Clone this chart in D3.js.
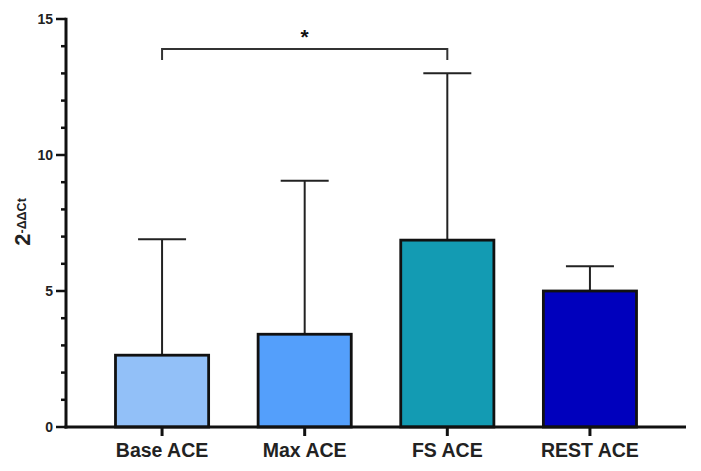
<!DOCTYPE html>
<html>
<head>
<meta charset="utf-8">
<script src="https://cdn.jsdelivr.net/npm/d3@7"></script>
<style>
  html, body { margin: 0; padding: 0; background: #fff; }
  svg { display: block; font-family: Arial, "Liberation Sans", sans-serif; }
</style>
</head>
<body>
<svg id="chart" width="701" height="471"></svg>
<script>
const categories = ["Base ACE", "Max ACE", "FS ACE", "REST ACE"];
const means = [2.64, 3.41, 6.87, 5.0];
const errTops = [6.9, 9.05, 13.01, 5.91];
const colors = ["#92c0f8", "#549ffb", "#139bb3", "#0000bd"];
const yTicks = [0, 5, 10, 15];
const yMinorTicks = d3.range(0, 16, 1);
const sigPair = ["Base ACE", "FS ACE"];
const sigLabel = "*";

const svg = d3.select("#chart");
const x0 = 66, x1 = 686, yBottom = 427, yTop = 19;

const x = d3.scaleBand().domain(categories).range([x0, x1]).paddingInner(0.347).paddingOuter(0.347);
const y = d3.scaleLinear().domain([0, 15]).range([yBottom, yTop]);

// error bars (drawn first so bars cover the stem bottom)
const eb = svg.append("g").attr("stroke", "#222").attr("stroke-width", 2).attr("fill", "none");
categories.forEach((c, i) => {
  const cx = x(c) + x.bandwidth() / 2;
  eb.append("line").attr("x1", cx).attr("x2", cx).attr("y1", y(means[i])).attr("y2", y(errTops[i]));
  eb.append("line").attr("x1", cx - 24).attr("x2", cx + 24).attr("y1", y(errTops[i])).attr("y2", y(errTops[i]));
});

// bars
svg.append("g").selectAll("rect").data(categories).join("rect")
  .attr("x", d => x(d))
  .attr("y", (d, i) => y(means[i]))
  .attr("width", x.bandwidth())
  .attr("height", (d, i) => yBottom - y(means[i]))
  .attr("fill", (d, i) => colors[i])
  .attr("stroke", "#111")
  .attr("stroke-width", 2.8);

// y axis
const yAxisG = svg.append("g").attr("transform", `translate(${x0},0)`);
yAxisG.selectAll("line.minor").data(yMinorTicks).join("line")
  .attr("class", "minor")
  .attr("x1", d => yTicks.includes(d) ? -10 : -5).attr("x2", 0)
  .attr("y1", d => y(d)).attr("y2", d => y(d))
  .attr("stroke", "#111").attr("stroke-width", 2.5);
yAxisG.append("line").attr("x1", 0).attr("x2", 0).attr("y1", y(15) - 1.2).attr("y2", yBottom + 1.5)
  .attr("stroke", "#111").attr("stroke-width", 3);
yAxisG.selectAll("text").data(yTicks).join("text")
  .attr("x", -13).attr("y", d => y(d)).attr("dy", "0.36em")
  .attr("text-anchor", "end").attr("font-size", 14).attr("font-weight", "bold").attr("fill", "#222")
  .text(d => d);

// x axis
const xAxisG = svg.append("g");
xAxisG.append("line").attr("x1", x0 - 1.5).attr("x2", x1).attr("y1", yBottom).attr("y2", yBottom)
  .attr("stroke", "#111").attr("stroke-width", 3);
xAxisG.selectAll("line.tick").data(categories).join("line").attr("class", "tick")
  .attr("x1", d => x(d) + x.bandwidth() / 2).attr("x2", d => x(d) + x.bandwidth() / 2)
  .attr("y1", yBottom).attr("y2", yBottom + 9)
  .attr("stroke", "#111").attr("stroke-width", 3);
xAxisG.selectAll("text").data(categories).join("text")
  .attr("x", d => x(d) + x.bandwidth() / 2).attr("y", 457)
  .attr("text-anchor", "middle").attr("font-size", 19.5).attr("font-weight", "bold").attr("fill", "#222")
  .text(d => d);

// y label
const yl = svg.append("text").attr("transform", "translate(30,222) rotate(-90)")
  .attr("text-anchor", "middle").attr("font-weight", "bold").attr("fill", "#222");
yl.append("tspan").attr("font-size", 22).text("2");
yl.append("tspan").attr("font-size", 12.5).attr("dy", -4).text("-ΔΔCt");

// significance bracket
const bx1 = x(sigPair[0]) + x.bandwidth() / 2, bx2 = x(sigPair[1]) + x.bandwidth() / 2;
const by = 49;
svg.append("path")
  .attr("d", `M${bx1},60 V${by} H${bx2} V60`)
  .attr("fill", "none").attr("stroke", "#333").attr("stroke-width", 2);
svg.append("text").attr("x", (bx1 + bx2) / 2).attr("y", 44)
  .attr("text-anchor", "middle").attr("font-size", 21).attr("font-weight", "bold").attr("fill", "#111")
  .text(sigLabel);
</script>
</body>
</html>
